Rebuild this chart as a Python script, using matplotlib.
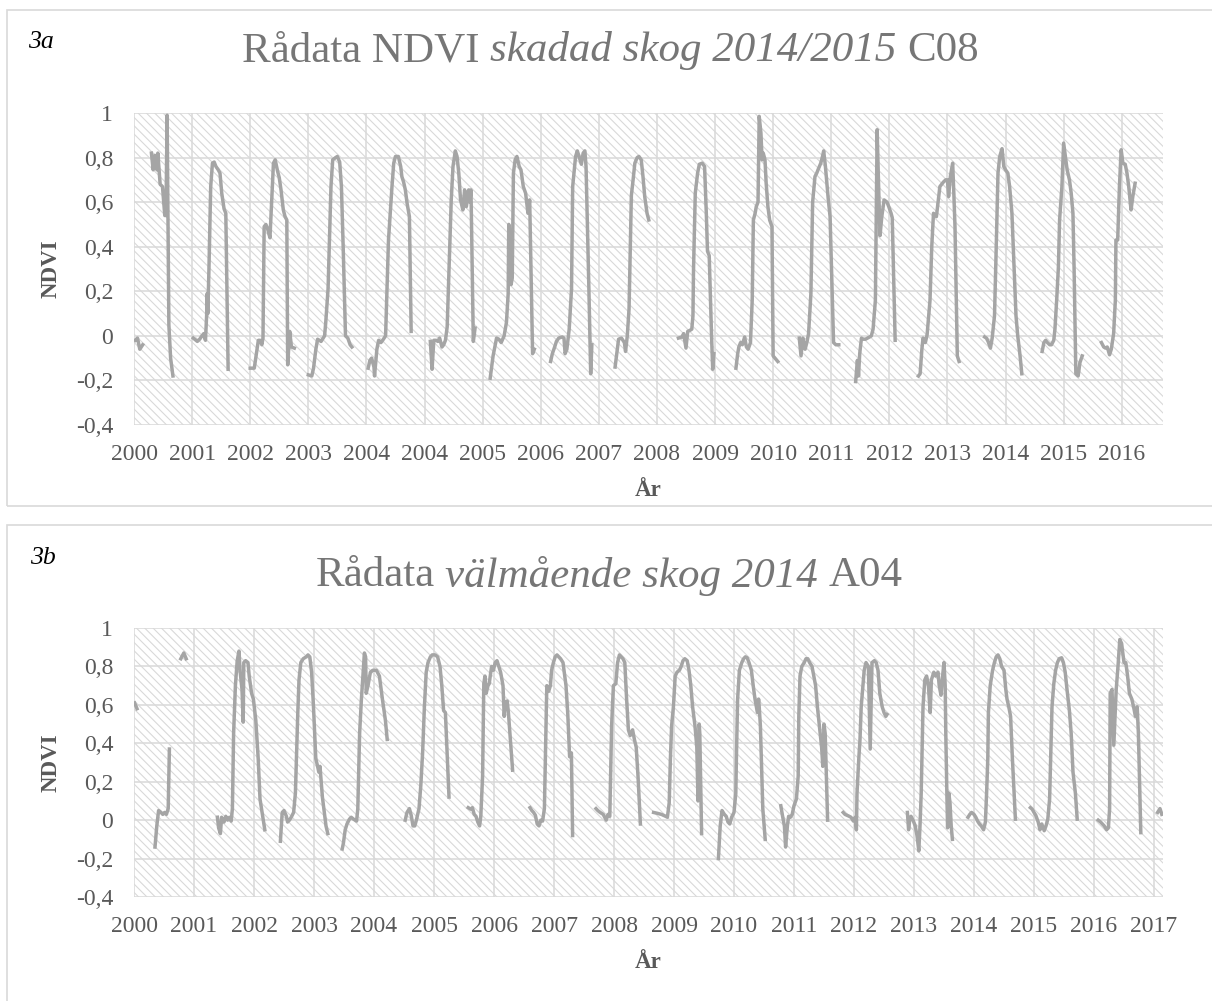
import numpy as np
import matplotlib.pyplot as plt
from matplotlib.patches import Rectangle

plt.rcParams['font.family'] = ['Liberation Serif', 'DejaVu Serif']
plt.rcParams['hatch.color'] = '#d9d9d9'
plt.rcParams['hatch.linewidth'] = 0.8

nan = np.nan

# x positions are in tick-interval units (0 = first label); gaps = missing data
t_a = [0.02, 0.06, 0.10, 0.15, nan,
       0.30, 0.33, 0.36, 0.395, 0.41, 0.45, 0.49, 0.53, 0.55, 0.57, 0.60, 0.63, 0.67, nan,
       1.02, 1.09, 1.13, 1.17, 1.20, 1.23, 1.25, 1.26, 1.27, 1.29, 1.32, 1.35, 1.38, 1.41, 1.45, 1.48, 1.51, 1.55, 1.58, 1.62, nan,
       2.00, 2.07, 2.10, 2.14, 2.17, 2.20, 2.22, 2.24, 2.27, 2.30, 2.34, 2.37, 2.40, 2.43, 2.47, 2.50, 2.53, 2.57, 2.60, 2.63, 2.645, 2.68, 2.71, 2.76, nan,
       3.00, 3.06, 3.09, 3.13, 3.16, 3.22, 3.28, 3.30, 3.34, 3.39, 3.42, 3.47, 3.50, 3.54, 3.57, 3.60, 3.64, 3.68, 3.72, 3.75, nan,
       4.03, 4.06, 4.09, 4.13, 4.14, 4.18, 4.21, 4.25, 4.28, 4.33, 4.38, 4.44, 4.47, 4.50, 4.55, 4.59, 4.61, 4.64, 4.67, 4.70, 4.74, 4.77, nan,
       5.10, 5.13, 5.16, 5.20, 5.23, 5.26, 5.30, 5.33, 5.36, 5.39, 5.46, 5.49, 5.53, 5.56, 5.59, 5.62, 5.66, 5.69, 5.72, 5.76, 5.78, 5.80, 5.84, 5.87, nan,
       6.13, 6.18, 6.24, 6.28, 6.32, 6.37, 6.41, 6.44, 6.45, 6.47, 6.49, 6.51, 6.53, 6.56, 6.59, 6.63, 6.66, 6.70, 6.74, 6.78, 6.81, 6.86, 6.89, nan,
       7.17, 7.20, 7.24, 7.27, 7.31, 7.37, 7.40, 7.42, 7.45, 7.49, 7.53, 7.55, 7.60, 7.63, 7.66, 7.70, 7.73, 7.76, 7.78, 7.83, 7.86, 7.88, nan,
       8.28, 8.34, 8.39, 8.44, 8.46, 8.49, 8.52, 8.56, 8.59, 8.62, 8.66, 8.69, 8.73, 8.76, 8.79, 8.83, 8.86, nan,
       9.37, 9.43, 9.46, 9.50, 9.53, 9.57, 9.60, 9.62, 9.63, 9.66, 9.70, 9.73, 9.78, 9.82, 9.85, 9.87, 9.90, 9.94, 9.96, 9.98, nan,
       10.36, 10.39, 10.41, 10.44, 10.47, 10.51, 10.54, 10.57, 10.61, 10.64, 10.66, 10.69, 10.71, 10.74, 10.76, 10.79, 10.81, 10.83, 10.86, 10.88, 10.91, 10.94, 10.98, 11.00, 11.08, nan,
       11.45, 11.48, 11.51, 11.55, 11.58, 11.61, 11.65, 11.68, 11.72, 11.75, 11.78, 11.82, 11.85, 11.87, 11.90, 11.92, 11.95, 11.98, 12.04, 12.08, 12.13, nan,
       12.42, 12.45, 12.47, 12.49, 12.52, 12.55, 12.59, 12.66, 12.69, 12.72, 12.76, 12.79, 12.82, 12.84, 12.87, 12.91, 12.96, 12.99, 13.03, 13.05, 13.10, nan,
       13.50, 13.53, 13.56, 13.58, 13.62, 13.65, 13.70, 13.73, 13.76, 13.81, 13.87, 13.90, 13.93, 13.97, 14.00, 14.02, 14.05, 14.09, 14.11, 14.13, 14.17, 14.20, nan,
       14.64, 14.67, 14.70, 14.74, 14.77, 14.81, 14.84, 14.87, 14.90, 14.94, 14.97, 15.00, 15.04, 15.07, 15.11, 15.14, 15.18, 15.21, 15.25, 15.28, nan,
       15.63, 15.66, 15.69, 15.72, 15.76, 15.79, 15.83, 15.85, 15.88, 15.91, 15.93, 15.97, 16.00, 16.03, 16.06, 16.10, 16.13, 16.16, 16.18, 16.21, 16.25, 16.28, 16.32, nan,
       16.65, 16.69, 16.72, 16.75, 16.79, 16.82, 16.86, 16.89, 16.90, 16.93, 16.96, 16.99, 17.02, 17.06, 17.09, 17.12, 17.16, 17.19, 17.23]
ndvi_a = [-0.02, -0.01, -0.06, -0.04, nan,
          0.82, 0.745, 0.81, 0.745, 0.82, 0.68, 0.67, 0.54, 0.54, 0.99, 0.05, -0.10, -0.18, nan,
          -0.01, -0.025, -0.015, 0.00, 0.01, -0.02, 0.09, 0.19, 0.10, 0.30, 0.67, 0.775, 0.78, 0.76, 0.745, 0.73, 0.64, 0.57, 0.55, -0.15, nan,
          -0.145, -0.145, -0.09, -0.02, -0.02, -0.04, -0.01, 0.49, 0.50, 0.48, 0.44, 0.61, 0.775, 0.79, 0.74, 0.71, 0.655, 0.565, 0.535, 0.52, -0.13, 0.02, -0.05, -0.055, nan,
          -0.175, -0.18, -0.145, -0.06, -0.015, -0.025, 0.00, 0.06, 0.21, 0.67, 0.79, 0.80, 0.805, 0.78, 0.67, 0.40, 0.00, -0.01, -0.04, -0.05, nan,
          -0.145, -0.11, -0.10, -0.14, -0.18, -0.06, -0.02, -0.03, -0.02, 0.00, 0.43, 0.67, 0.775, 0.805, 0.805, 0.76, 0.715, 0.69, 0.655, 0.595, 0.535, 0.02, nan,
          -0.025, -0.15, -0.02, -0.02, -0.025, -0.01, -0.05, -0.04, -0.02, 0.04, 0.61, 0.76, 0.83, 0.805, 0.73, 0.61, 0.565, 0.655, 0.58, 0.655, 0.60, 0.655, -0.025, 0.035, nan,
          -0.19, -0.09, -0.01, -0.015, -0.03, 0.00, 0.06, 0.19, 0.50, 0.46, 0.23, 0.26, 0.73, 0.79, 0.805, 0.76, 0.745, 0.67, 0.64, 0.55, 0.61, -0.08, -0.06, nan,
          -0.115, -0.08, -0.05, -0.025, -0.01, -0.005, -0.01, -0.08, -0.06, 0.03, 0.21, 0.67, 0.805, 0.83, 0.805, 0.77, 0.82, 0.83, 0.76, 0.20, -0.17, -0.04, nan,
          -0.14, -0.015, -0.01, -0.03, -0.07, 0.00, 0.12, 0.63, 0.70, 0.775, 0.80, 0.805, 0.79, 0.715, 0.625, 0.55, 0.52, nan,
          -0.01, -0.005, 0.01, -0.055, 0.02, 0.025, 0.03, 0.09, 0.30, 0.64, 0.73, 0.77, 0.775, 0.76, 0.55, 0.38, 0.36, 0.00, -0.15, -0.08, nan,
          -0.145, -0.08, -0.05, -0.03, -0.04, -0.005, -0.05, -0.06, -0.03, 0.16, 0.52, 0.55, 0.58, 0.60, 0.985, 0.91, 0.79, 0.82, 0.79, 0.685, 0.58, 0.52, 0.49, -0.09, -0.115, nan,
          -0.01, -0.09, -0.01, -0.06, -0.03, 0.01, 0.19, 0.60, 0.715, 0.73, 0.75, 0.775, 0.805, 0.83, 0.76, 0.70, 0.61, 0.535, -0.03, -0.04, -0.04, nan,
          -0.205, -0.11, -0.18, -0.08, -0.01, -0.015, -0.015, -0.005, 0.00, 0.03, 0.16, 0.925, 0.625, 0.45, 0.535, 0.61, 0.60, 0.58, 0.55, 0.53, -0.02, nan,
          -0.18, -0.17, -0.06, -0.01, -0.03, 0.005, 0.16, 0.40, 0.55, 0.535, 0.67, 0.68, 0.69, 0.70, 0.70, 0.625, 0.715, 0.775, 0.64, 0.49, -0.09, -0.115, nan,
          -0.005, -0.01, -0.025, -0.055, -0.01, 0.09, 0.40, 0.73, 0.805, 0.84, 0.76, 0.745, 0.73, 0.67, 0.55, 0.35, 0.09, 0.00, -0.09, -0.17, nan,
          -0.07, -0.03, -0.02, -0.03, -0.04, -0.04, -0.02, 0.03, 0.16, 0.31, 0.52, 0.67, 0.865, 0.805, 0.745, 0.70, 0.64, 0.55, 0.30, -0.17, -0.18, -0.12, -0.09, nan,
          -0.03, -0.05, -0.055, -0.05, -0.085, -0.06, 0.01, 0.16, 0.43, 0.43, 0.67, 0.835, 0.775, 0.77, 0.73, 0.67, 0.565, 0.625, 0.685]

t_b = [0.01, 0.05, nan,
       0.35, 0.38, 0.41, 0.45, 0.48, 0.51, 0.54, 0.57, 0.59, nan,
       0.78, 0.83, 0.87, nan,
       1.39, 1.41, 1.44, 1.46, 1.50, 1.53, 1.56, 1.59, 1.62, 1.64, 1.66, 1.69, 1.72, 1.75, 1.77, 1.80, 1.82, 1.83, 1.86, 1.90, 1.92, 1.96, 1.99, 2.03, 2.07, 2.10, 2.15, 2.18, nan,
       2.44, 2.47, 2.50, 2.54, 2.56, 2.59, 2.62, 2.66, 2.69, 2.73, 2.75, 2.78, 2.82, 2.87, 2.90, 2.93, 2.96, 2.99, 3.03, 3.06, 3.08, 3.10, 3.14, 3.20, 3.23, nan,
       3.47, 3.49, 3.52, 3.55, 3.59, 3.62, 3.66, 3.71, 3.73, 3.76, 3.79, 3.82, 3.84, 3.86, 3.87, 3.90, 3.94, 3.98, 4.04, 4.09, 4.14, 4.19, 4.22, nan,
       4.52, 4.55, 4.59, 4.62, 4.65, 4.68, 4.71, 4.75, 4.78, 4.81, 4.84, 4.87, 4.90, 4.94, 4.97, 5.02, 5.06, 5.10, 5.13, 5.16, 5.19, 5.25, nan,
       5.57, 5.61, 5.64, 5.67, 5.70, 5.73, 5.76, 5.78, 5.81, 5.83, 5.85, 5.87, 5.90, 5.92, 5.96, 5.99, 6.02, 6.05, 6.08, 6.11, 6.15, 6.17, 6.19, 6.22, 6.24, 6.31, nan,
       6.60, 6.63, 6.66, 6.69, 6.72, 6.75, 6.78, 6.81, 6.84, 6.88, 6.91, 6.94, 6.96, 6.99, 7.02, 7.05, 7.08, 7.11, 7.15, 7.20, 7.23, 7.26, 7.29, 7.31, nan,
       7.70, 7.73, 7.77, 7.82, 7.87, 7.90, 7.93, 7.96, 7.99, 8.03, 8.06, 8.09, 8.12, 8.15, 8.18, 8.21, 8.24, 8.27, 8.31, 8.34, 8.37, 8.40, 8.44, nan,
       8.66, 8.73, 8.79, 8.86, 8.89, 8.92, 8.94, 8.96, 8.99, 9.02, 9.05, 9.09, 9.12, 9.15, 9.18, 9.22, 9.25, 9.28, 9.31, 9.35, 9.38, 9.40, 9.42, 9.43, 9.46, nan,
       9.74, 9.77, 9.80, 9.84, 9.87, 9.90, 9.93, 9.96, 10.00, 10.03, 10.04, 10.06, 10.09, 10.13, 10.16, 10.19, 10.22, 10.25, 10.29, 10.32, 10.35, 10.39, 10.41, 10.42, 10.44, 10.48, 10.52, nan,
       10.78, 10.81, 10.84, 10.86, 10.89, 10.91, 10.94, 10.97, 11.00, 11.04, 11.07, 11.08, 11.10, 11.13, 11.17, 11.20, 11.23, 11.26, 11.30, 11.33, 11.36, 11.39, 11.43, 11.46, 11.48, 11.50, 11.52, 11.56, nan,
       11.82, 11.85, 11.92, 11.95, 11.99, 12.02, 12.04, 12.05, 12.08, 12.10, 12.12, 12.15, 12.17, 12.20, 12.24, 12.27, 12.30, 12.34, 12.37, 12.40, 12.43, 12.47, 12.50, 12.53, 12.55, nan,
       12.89, 12.91, 12.93, 12.95, 12.99, 13.02, 13.05, 13.08, 13.10, 13.12, 13.15, 13.18, 13.21, 13.24, 13.27, 13.29, 13.33, 13.36, 13.40, 13.42, 13.45, 13.47, 13.50, 13.52, 13.53, 13.55, 13.56, 13.58, 13.60, 13.62, 13.64, nan,
       13.90, 13.93, 13.96, 14.00, 14.03, 14.06, 14.09, 14.12, 14.16, 14.19, 14.21, 14.23, 14.24, 14.27, 14.31, 14.34, 14.37, 14.40, 14.43, 14.46, 14.50, 14.53, 14.55, 14.58, 14.61, 14.64, 14.68, 14.69, nan,
       14.94, 14.97, 15.00, 15.03, 15.07, 15.10, 15.13, 15.17, 15.20, 15.23, 15.26, 15.30, 15.33, 15.36, 15.39, 15.42, 15.46, 15.49, 15.52, 15.55, 15.59, 15.62, 15.65, 15.69, 15.72, nan,
       16.07, 16.11, 16.14, 16.17, 16.21, 16.24, 16.26, 16.27, 16.30, 16.33, 16.37, 16.40, 16.43, 16.46, 16.50, 16.53, 16.56, 16.59, 16.63, 16.66, 16.69, 16.72, 16.74, 16.78, nan,
       17.06, 17.10, 17.13]
ndvi_b = [0.61, 0.58, nan,
          -0.14, -0.03, 0.05, 0.04, 0.03, 0.04, 0.03, 0.06, 0.37, nan,
          0.84, 0.87, 0.84, nan,
          0.015, -0.04, -0.07, 0.015, -0.01, 0.02, 0.00, 0.015, -0.005, 0.06, 0.45, 0.70, 0.83, 0.88, 0.77, 0.68, 0.51, 0.82, 0.83, 0.82, 0.75, 0.66, 0.63, 0.52, 0.32, 0.11, 0.01, -0.05, nan,
          -0.11, 0.04, 0.05, 0.02, -0.01, 0.00, 0.015, 0.04, 0.14, 0.56, 0.73, 0.82, 0.84, 0.85, 0.86, 0.85, 0.77, 0.60, 0.32, 0.28, 0.25, 0.28, 0.12, -0.03, -0.07, nan,
          -0.15, -0.12, -0.05, -0.02, 0.005, 0.015, 0.005, -0.005, 0.06, 0.45, 0.63, 0.77, 0.87, 0.85, 0.66, 0.70, 0.77, 0.78, 0.78, 0.75, 0.63, 0.52, 0.42, nan,
          0.00, 0.04, 0.06, 0.025, -0.03, -0.03, 0.005, 0.06, 0.18, 0.35, 0.59, 0.77, 0.82, 0.85, 0.86, 0.86, 0.85, 0.80, 0.70, 0.57, 0.56, 0.12, nan,
          0.065, 0.057, 0.065, 0.03, 0.02, -0.01, -0.03, 0.02, 0.23, 0.71, 0.75, 0.66, 0.70, 0.71, 0.80, 0.78, 0.82, 0.83, 0.80, 0.77, 0.70, 0.54, 0.61, 0.62, 0.56, 0.26, nan,
          0.065, 0.05, 0.04, 0.025, -0.02, -0.03, 0.00, -0.005, 0.06, 0.70, 0.67, 0.70, 0.78, 0.82, 0.85, 0.86, 0.85, 0.84, 0.82, 0.70, 0.55, 0.33, 0.35, -0.08, nan,
          0.06, 0.05, 0.04, 0.03, 0.00, 0.03, 0.02, 0.49, 0.70, 0.71, 0.82, 0.86, 0.85, 0.84, 0.82, 0.63, 0.47, 0.44, 0.47, 0.42, 0.38, 0.23, -0.02, nan,
          0.04, 0.035, 0.03, 0.02, 0.015, 0.09, 0.32, 0.49, 0.59, 0.75, 0.77, 0.78, 0.80, 0.83, 0.84, 0.83, 0.78, 0.70, 0.59, 0.49, 0.38, 0.10, 0.50, 0.45, -0.07, nan,
          -0.20, -0.03, 0.05, 0.03, 0.02, -0.01, -0.02, 0.015, 0.04, 0.14, 0.32, 0.63, 0.78, 0.82, 0.84, 0.85, 0.845, 0.82, 0.78, 0.70, 0.63, 0.56, 0.63, 0.59, 0.49, 0.06, -0.10, nan,
          0.075, 0.02, -0.03, -0.14, -0.03, 0.02, 0.015, 0.03, 0.075, 0.11, 0.23, 0.54, 0.75, 0.80, 0.82, 0.84, 0.84, 0.82, 0.80, 0.75, 0.70, 0.59, 0.47, 0.38, 0.28, 0.50, 0.45, 0.00, nan,
          0.04, 0.03, 0.02, 0.015, -0.005, 0.015, -0.05, 0.14, 0.32, 0.42, 0.59, 0.70, 0.78, 0.82, 0.80, 0.37, 0.82, 0.83, 0.82, 0.78, 0.66, 0.59, 0.56, 0.54, 0.55, nan,
          0.04, -0.05, 0.005, 0.02, -0.005, -0.03, -0.08, -0.16, -0.03, 0.14, 0.59, 0.73, 0.75, 0.70, 0.56, 0.73, 0.77, 0.75, 0.77, 0.70, 0.65, 0.73, 0.82, 0.70, 0.45, 0.10, -0.04, 0.14, 0.09, -0.03, -0.10, nan,
          0.015, 0.03, 0.04, 0.03, 0.015, -0.005, -0.02, -0.03, -0.05, -0.01, 0.14, 0.32, 0.56, 0.70, 0.78, 0.82, 0.85, 0.86, 0.84, 0.80, 0.78, 0.68, 0.63, 0.59, 0.54, 0.32, 0.06, 0.005, nan,
          0.065, 0.057, 0.04, 0.025, -0.01, -0.05, -0.02, -0.055, -0.03, 0.005, 0.11, 0.59, 0.71, 0.78, 0.82, 0.84, 0.845, 0.82, 0.77, 0.68, 0.57, 0.45, 0.25, 0.14, 0.005, nan,
          0.00, -0.01, -0.02, -0.03, -0.05, -0.04, 0.06, 0.66, 0.68, 0.39, 0.68, 0.80, 0.94, 0.92, 0.82, 0.82, 0.75, 0.66, 0.63, 0.59, 0.54, 0.59, 0.45, -0.065, nan,
          0.04, 0.06, 0.03]

labels_a = ['2000', '2001', '2002', '2003', '2004', '2004', '2005', '2006', '2007',
            '2008', '2009', '2010', '2011', '2012', '2013', '2014', '2015', '2016']
labels_b = ['2000', '2001', '2002', '2003', '2004', '2005', '2006', '2007', '2008',
            '2009', '2010', '2011', '2012', '2013', '2014', '2015', '2016', '2017']
yticks = [-0.4, -0.2, 0, 0.2, 0.4, 0.6, 0.8, 1]
ytick_labels = ['-0,4', '-0,2', '0', '0,2', '0,4', '0,6', '0,8', '1']

W, H = 1212, 1001
fig = plt.figure(figsize=(W / 100, H / 100), dpi=100)


def fx(px):
    return px / W


def fy(py):
    return 1 - py / H


grey_txt = '#595959'
grid_c = '#d9d9d9'
line_c = '#a5a5a5'

# panel frames
for top, bottom in [(10, 506), (525, H + 10)]:
    fig.patches.append(Rectangle((fx(7), fy(bottom)), fx(W + 10) - fx(7), fy(top) - fy(bottom),
                                 transform=fig.transFigure, fill=False, ec=grid_c, lw=1.2))


def make_panel(top, bottom, t, v, labels, xmax):
    ax = fig.add_axes([fx(134), fy(bottom), fx(1163) - fx(134), fy(top) - fy(bottom)])
    ax.add_patch(Rectangle((0, 0), 1, 1, transform=ax.transAxes, facecolor='white',
                           edgecolor=grid_c, hatch='\\\\\\\\', lw=0, zorder=0))
    ax.plot(t, v, color=line_c, lw=2.5, solid_joinstyle='round', zorder=3)
    ax.set_xlim(0, xmax)
    ax.set_ylim(-0.4, 1.0)
    ax.set_xticks(np.arange(len(labels)))
    ax.set_xticklabels(labels)
    ax.set_yticks(yticks)
    ax.set_yticklabels(ytick_labels)
    ax.grid(True, color=grid_c, lw=1.1)
    ax.set_axisbelow(True)
    for s in ax.spines.values():
        s.set_visible(False)
    ax.tick_params(axis='both', length=0, labelsize=17, labelcolor=grey_txt)
    ax.tick_params(axis='y', pad=15)
    ax.tick_params(axis='x', pad=14)
    return ax


ax_a = make_panel(113, 425, t_a, ndvi_a, labels_a, 17.71)
ax_b = make_panel(628, 897, t_b, ndvi_b, labels_b, 17.15)

renderer = fig.canvas.get_renderer()


def mixed_title(cx, cy, parts, size=31, color='#767676'):
    gap_t = fig.text(0, 0, 'x x', fontsize=size)
    nogap_t = fig.text(0, 0, 'xx', fontsize=size)
    gap = gap_t.get_window_extent(renderer).width - nogap_t.get_window_extent(renderer).width
    gap_t.remove()
    nogap_t.remove()
    texts = [fig.text(0, fy(cy), s, fontsize=size, style=st, color=color, va='center')
             for s, st in parts]
    widths = [tx.get_window_extent(renderer).width for tx in texts]
    x = cx - (sum(widths) + gap * (len(parts) - 1)) / 2
    for tx, w in zip(texts, widths):
        tx.set_x(fx(x))
        x += w + gap


mixed_title(610, 51, [('Rådata NDVI', 'normal'), ('skadad skog 2014/2015', 'italic'), ('C08', 'normal')])
mixed_title(609, 576, [('Rådata', 'normal'), ('välmående skog 2014', 'italic'), ('A04', 'normal')])

fig.text(fx(41), fy(42), '3a', fontsize=18.5, style='italic', color='black', ha='center', va='center')
fig.text(fx(43), fy(558), '3b', fontsize=18.5, style='italic', color='black', ha='center', va='center')

for top, bottom, ar_y in [(113, 425, 490), (628, 897, 963)]:
    fig.text(fx(51), fy((top + bottom) / 2), 'NDVI', fontsize=16.5, fontweight='bold',
             color=grey_txt, rotation=90, ha='center', va='center')
    fig.text(fx(648.5), fy(ar_y), 'År', fontsize=16.5, fontweight='bold',
             color=grey_txt, ha='center', va='center')

fig.savefig('out.png', dpi=100)
